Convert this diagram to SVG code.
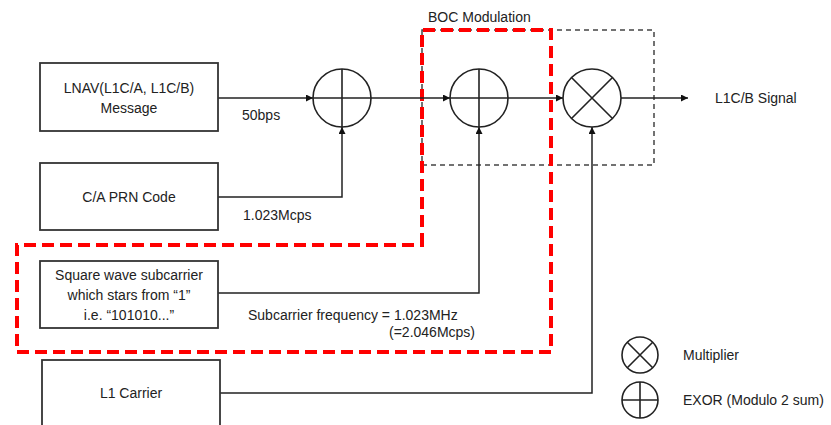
<svg xmlns="http://www.w3.org/2000/svg" width="831" height="425" viewBox="0 0 831 425">
  <defs>
    <marker id="arr" viewBox="0 0 10 10" refX="10" refY="5" markerWidth="7" markerHeight="7" markerUnits="userSpaceOnUse" orient="auto">
      <path d="M0,0 L10,5 L0,10 Z" fill="#111"/>
    </marker>
    <style>
      .box { fill: #fff; stroke: #333; stroke-width: 1.8; }
      .sym { fill: none; stroke: #222; stroke-width: 1.6; }
      .ln { fill: none; stroke: #222; stroke-width: 1.5; }
      .t { font-family: "Liberation Sans", Arial, sans-serif; font-size: 14px; fill: #222; dominant-baseline: central; }
      .c { text-anchor: middle; }
      .red { fill: none; stroke: #ff0000; stroke-width: 4; stroke-dasharray: 12 6; }
      .grey { fill: none; stroke: #444; stroke-width: 1.5; stroke-dasharray: 5 4; }
    </style>
  </defs>
  <rect width="831" height="425" fill="#fff"/>

  <g id="boc-region">
    <rect class="grey" x="422" y="30" width="232" height="135"/>
    <path class="red" d="M422,245 L422,30 L551,30 L551,352 L17,352 L17,245 Z"/>
    <text class="t" x="428" y="17">BOC Modulation</text>
  </g>

  <g id="connectors">
    <path class="ln" d="M218,98 L313,98" marker-end="url(#arr)"/>
    <path class="ln" d="M218,197 L342,197 L342,127" marker-end="url(#arr)"/>
    <path class="ln" d="M371,98 L450,98" marker-end="url(#arr)"/>
    <path class="ln" d="M218,293 L479,293 L479,127" marker-end="url(#arr)"/>
    <path class="ln" d="M508,98 L563,98" marker-end="url(#arr)"/>
    <path class="ln" d="M220,393 L592,393 L592,127" marker-end="url(#arr)"/>
    <path class="ln" d="M621,98 L688,98" marker-end="url(#arr)"/>
    <text class="t" x="242" y="115">50bps</text>
    <text class="t" x="243" y="215">1.023Mcps</text>
    <text class="t" x="248" y="315">Subcarrier frequency = 1.023MHz</text>
    <text class="t" x="475" y="332" text-anchor="end">(=2.046Mcps)</text>
  </g>

  <g id="lnav">
    <rect class="box" x="40" y="63" width="178" height="68"/>
    <text class="t c" x="129" y="88">LNAV(L1C/A, L1C/B)</text>
    <text class="t c" x="129" y="108">Message</text>
  </g>

  <g id="ca-prn">
    <rect class="box" x="40" y="163" width="178" height="67"/>
    <text class="t c" x="129" y="197">C/A PRN Code</text>
  </g>

  <g id="square-wave">
    <rect class="box" x="40" y="261" width="178" height="67"/>
    <text class="t c" x="129" y="275">Square wave subcarrier</text>
    <text class="t c" x="129" y="295">which stars from “1”</text>
    <text class="t c" x="129" y="315">i.e. “101010...”</text>
  </g>

  <g id="l1-carrier">
    <rect class="box" x="42" y="360" width="178" height="80"/>
    <text class="t c" x="131" y="393">L1 Carrier</text>
  </g>

  <g id="exor1">
    <circle class="sym" cx="342" cy="98" r="29"/>
    <path class="sym" d="M313,98 H371 M342,69 V127"/>
  </g>

  <g id="exor2">
    <circle class="sym" cx="479" cy="98" r="29"/>
    <path class="sym" d="M450,98 H508 M479,69 V127"/>
  </g>

  <g id="multiplier">
    <circle class="sym" cx="592" cy="98" r="29"/>
    <path class="sym" d="M571.5,77.5 L612.5,118.5 M612.5,77.5 L571.5,118.5"/>
  </g>

  <g id="output">
    <text class="t" x="715" y="98">L1C/B Signal</text>
  </g>

  <g id="legend-multiplier">
    <circle class="sym" cx="640" cy="355" r="18"/>
    <path class="sym" d="M627.3,342.3 L652.7,367.7 M652.7,342.3 L627.3,367.7"/>
    <text class="t" x="683" y="355">Multiplier</text>
  </g>

  <g id="legend-exor">
    <circle class="sym" cx="640" cy="400" r="18"/>
    <path class="sym" d="M622,400 H658 M640,382 V418"/>
    <text class="t" x="683" y="400">EXOR (Modulo 2 sum)</text>
  </g>
</svg>
